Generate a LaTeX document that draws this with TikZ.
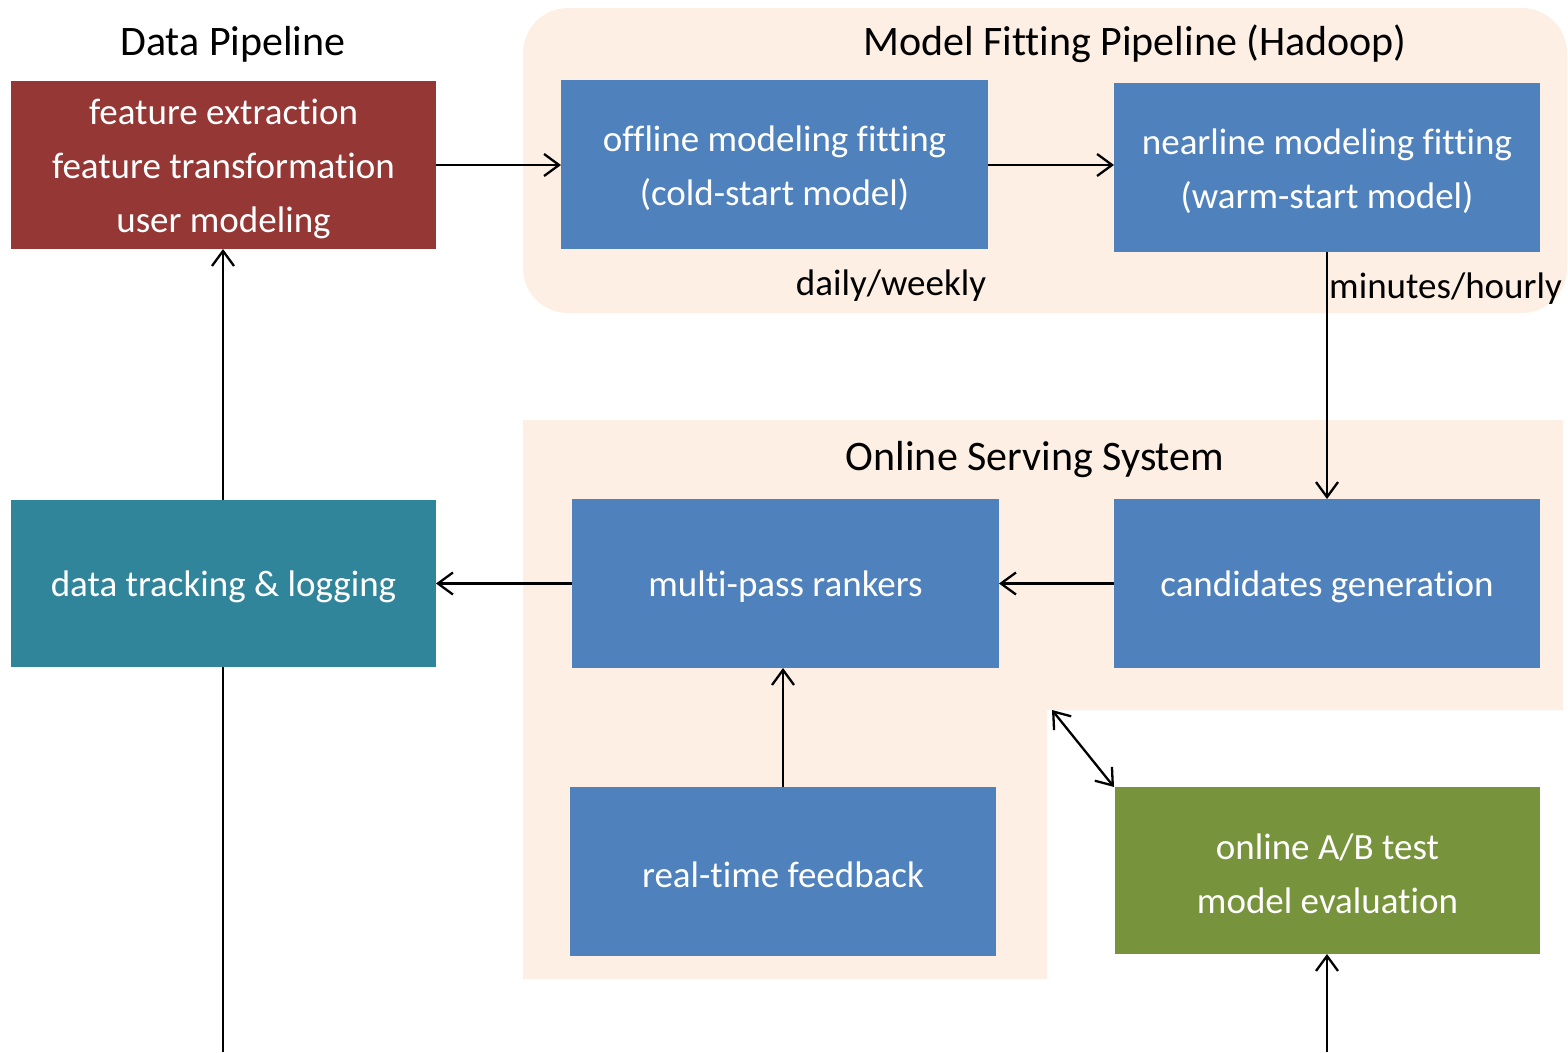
\documentclass[tikz,border=0pt]{standalone}
\usepackage{fontspec}
\setmainfont{Carlito}[Ligatures=NoCommon]
\usetikzlibrary{arrows.meta}
\definecolor{bgpeach}{RGB}{253,239,227}
\definecolor{boxblue}{RGB}{79,129,189}
\definecolor{boxred}{RGB}{149,55,53}
\definecolor{boxteal}{RGB}{49,133,155}
\definecolor{boxgreen}{RGB}{119,147,60}
\tikzset{
  blk/.style={inner sep=0pt, outer sep=0pt},
  blktext/.style={inner sep=0pt, text=white, align=center, yshift=-3.5pt,
    font=\fontsize{37}{54}\selectfont},
  ttl/.style={inner sep=0pt, font=\fontsize{42}{50}\selectfont},
  lbl/.style={inner sep=0pt, font=\fontsize{37}{44}\selectfont},
  tip/.style={Straight Barb[length=15pt,width=22pt]},
  conn/.style={line width=2.3pt, -{Straight Barb[length=15pt,width=22pt]}},
  dconn/.style={line width=2.3pt, {Straight Barb[length=15pt,width=22pt]}-{Straight Barb[length=15pt,width=22pt]}},
  plain/.style={line width=2.3pt},
}
\begin{document}
\begin{tikzpicture}[x=1pt,y=-1pt]
\useasboundingbox (0,0) rectangle (1568,1052);
% backgrounds
\fill[bgpeach, rounded corners=45pt] (523,8) rectangle (1567,313);
\fill[bgpeach] (523,420) -- (1563,420) -- (1563,710) -- (1047,710) -- (1047,979) -- (523,979) -- cycle;
% titles
\node[ttl] (tdata) at (233,44) {Data Pipeline};
\node[ttl] (tmodel) at (1135,44) {Model Fitting Pipeline (Hadoop)};
\node[ttl] (tonline) at (1035,460) {Online Serving System};
% boxes
\node[blk, fill=boxred, minimum width=425pt, minimum height=168pt,
  label={[blktext]center:{feature extraction\\feature transformation\\user modeling}}] (feat) at (223.5,165) {};
\node[blk, fill=boxblue, minimum width=427pt, minimum height=169pt,
  label={[blktext]center:{offline modeling fitting\\(cold-start model)}}] (offline) at (774.5,164.5) {};
\node[blk, fill=boxblue, minimum width=426pt, minimum height=169pt,
  label={[blktext]center:{nearline modeling fitting\\(warm-start model)}}] (nearline) at (1327,167.5) {};
\node[blk, fill=boxteal, minimum width=425pt, minimum height=167pt,
  label={[blktext]center:{data tracking \& logging}}] (track) at (223.5,583.5) {};
\node[blk, fill=boxblue, minimum width=427pt, minimum height=169pt,
  label={[blktext]center:{multi-pass rankers}}] (rank) at (785.5,583.5) {};
\node[blk, fill=boxblue, minimum width=426pt, minimum height=169pt,
  label={[blktext]center:{candidates generation}}] (cand) at (1327,583.5) {};
\node[blk, fill=boxblue, minimum width=426pt, minimum height=169pt,
  label={[blktext]center:{real-time feedback}}] (feed) at (783,871.5) {};
\node[blk, fill=boxgreen, minimum width=425pt, minimum height=167pt,
  label={[blktext]center:{online A/B test\\model evaluation}}] (ab) at (1327.5,870.5) {};
% labels
\node[lbl] (ldaily) at (891,286) {daily/weekly};
\node[lbl, anchor=west] (lmin) at (1329,289) {minutes/hourly};
% free ends
\coordinate (bl) at (223,1052);
\coordinate (br) at (1327,1052);
\coordinate (dA) at (1052,710);
\coordinate (dB) at (1114,787);
% connectors
\draw[conn] (feat.east |- 0,165) -- (offline.west |- 0,165);
\draw[conn] (offline.east |- 0,165) -- (nearline.west |- 0,165);
\draw[conn] (nearline.south) -- (cand.north);
\draw[conn] (cand.west) -- (rank.east);
\draw[conn] (rank.west) -- (track.east);
\draw[conn] (feed.north) -- (feed.north |- rank.south);
\draw[conn] (track.north -| bl) -- (bl |- feat.south);
\draw[plain] (bl) -- (bl |- track.south);
\draw[conn] (br) -- (ab.south -| br);
\draw[dconn] (dA) -- (dB);
\end{tikzpicture}
\end{document}
